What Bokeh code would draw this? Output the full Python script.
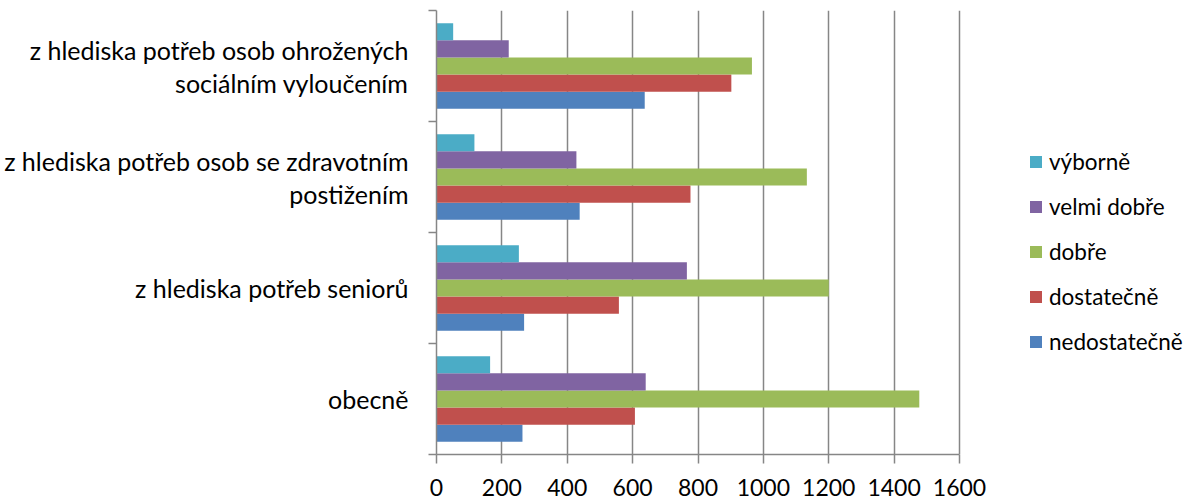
from bokeh.plotting import figure
from bokeh.models import (ColumnDataSource, FixedTicker, LinearAxis, Legend, LegendItem, Range1d)
from bokeh.transform import dodge
from bokeh.embed import file_html
from bokeh.resources import INLINE

# ---- data ----
categories = [
    "obecně",
    "z hlediska potřeb seniorů",
    "z hlediska potřeb osob se zdravotním\npostižením",
    "z hlediska potřeb osob ohrožených\nsociálním vyloučením",
]
series = ["nedostatečně", "dostatečně", "dobře", "velmi dobře", "výborně"]
nedostatecne = [263, 268, 438, 637]
dostatecne = [607, 558, 777, 902]
dobre = [1477, 1200, 1133, 965]
velmi_dobre = [640, 766, 428, 221]
vyborne = [164, 252, 116, 51]
x_ticks = [0, 200, 400, 600, 800, 1000, 1200, 1400, 1600]

values = [nedostatecne, dostatecne, dobre, velmi_dobre, vyborne]
colors = ["#4F81BD", "#C0504D", "#9BBB59", "#8064A2", "#4BACC6"]

FONT = "Lato"
W, H = 1190, 502
LEFT = 436
X_PX = 523.0            # pixel width of 0..1600
FRAME_W = W - LEFT
x_max = x_ticks[-1] * FRAME_W / X_PX
AXIS_GRAY = "#868686"

data = {"y": list(range(len(categories)))}
for s, v in zip(series, values):
    data[s] = v
source = ColumnDataSource(data)

p = figure(width=W, height=H, output_backend="svg", toolbar_location=None,
           x_range=Range1d(0, x_max), y_range=Range1d(-0.5, len(categories) - 0.5),
           min_border_left=LEFT, min_border_right=0, min_border_top=10, min_border_bottom=48)
p.outline_line_color = None
p.background_fill_color = "white"

bar_h = 0.154
renderers = []
for k, (s, c) in enumerate(zip(series, colors)):
    off = (k - 2) * bar_h
    r = p.hbar(y=dodge("y", off, range=p.y_range), left=0, right=s, height=bar_h,
               source=source, fill_color=c, line_color=None)
    renderers.append(r)

# x axis
p.xaxis.ticker = FixedTicker(ticks=x_ticks)
p.xaxis.bounds = (x_ticks[0], x_ticks[-1])
p.xaxis.axis_line_color = AXIS_GRAY
p.xaxis.axis_line_width = 1.5
p.xaxis.major_tick_line_color = AXIS_GRAY
p.xaxis.major_tick_line_width = 1.5
p.xaxis.major_tick_out = 9
p.xaxis.major_tick_in = 0
p.xaxis.minor_tick_line_color = None
p.xaxis.major_label_standoff = 15
p.xaxis.major_label_text_font = FONT
p.xaxis.major_label_text_font_size = "23px"
p.xaxis.major_label_text_color = "#000000"

p.xgrid.ticker = FixedTicker(ticks=x_ticks)
p.xgrid.bounds = (x_ticks[0], x_ticks[-1])
p.xgrid.grid_line_color = AXIS_GRAY
p.xgrid.grid_line_width = 1.5
p.ygrid.grid_line_color = None

# y axis (category boundaries as ticks)
bounds_ticks = [i - 0.5 for i in range(len(categories) + 1)]
p.yaxis.ticker = FixedTicker(ticks=bounds_ticks)
p.yaxis.major_label_overrides = {t: "" for t in bounds_ticks}
p.yaxis.axis_line_color = AXIS_GRAY
p.yaxis.axis_line_width = 1.5
p.yaxis.major_tick_line_color = AXIS_GRAY
p.yaxis.major_tick_line_width = 1.5
p.yaxis.major_tick_out = 8
p.yaxis.major_tick_in = 0
p.yaxis.major_label_standoff = 0
p.yaxis.minor_tick_line_color = None

# category labels on a second, line-less axis
centers = list(range(len(categories)))
cat_axis = LinearAxis(ticker=FixedTicker(ticks=centers),
                      major_label_overrides={c: t for c, t in zip(centers, categories)},
                      axis_line_color=None, major_tick_line_color=None,
                      minor_tick_line_color=None, major_label_standoff=14,
                      major_label_text_font=FONT, major_label_text_font_size="25px",
                      major_label_text_color="#000000", major_label_text_align="center",
                      major_label_text_line_height=1.1)
p.add_layout(cat_axis, "left")

# legend
items = [LegendItem(label=s, renderers=[r]) for s, r in zip(series, renderers)][::-1]
legend = Legend(items=items, location=(592, 99), orientation="vertical",
                glyph_width=15, glyph_height=15, label_height=26, spacing=18,
                padding=0, margin=0, label_standoff=6,
                label_text_font=FONT, label_text_font_size="22.5px",
                label_text_color="#000000", border_line_color=None,
                background_fill_alpha=0)
p.add_layout(legend)

open("out.html", "w").write(file_html(p, INLINE))
